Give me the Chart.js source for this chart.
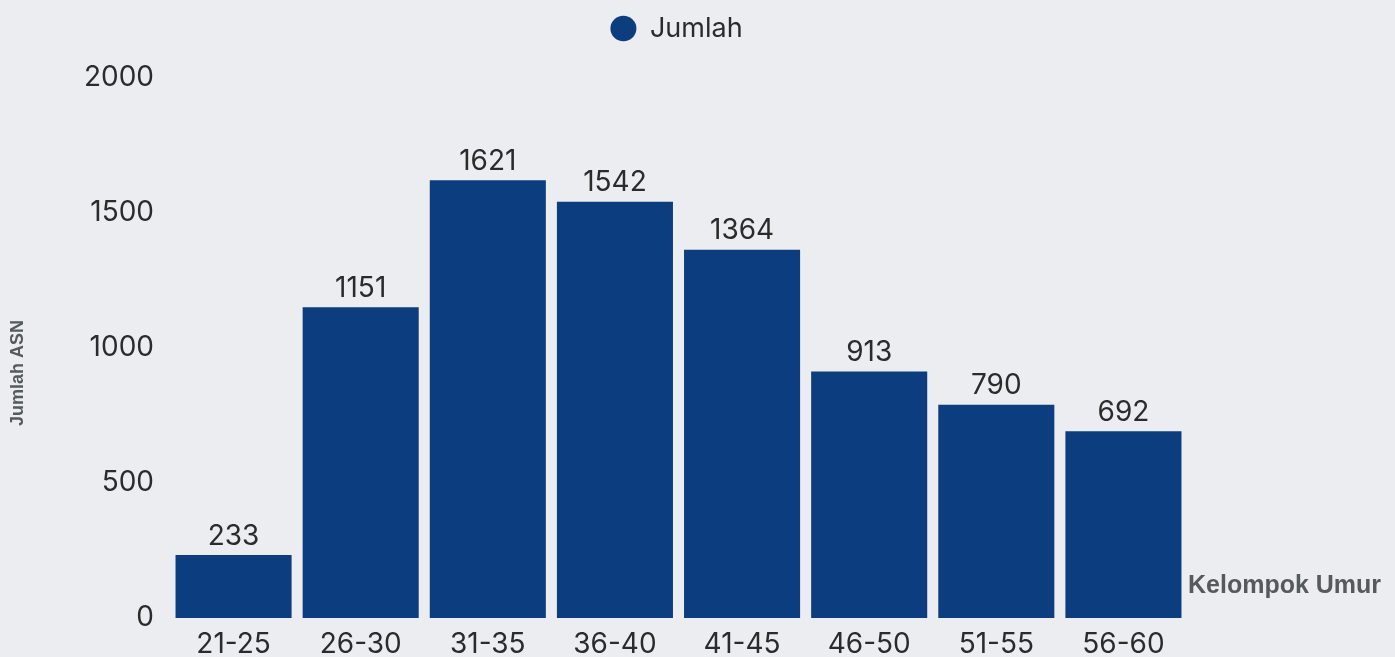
<!DOCTYPE html>
<html>
<head>
<meta charset="utf-8">
<script src="https://cdn.jsdelivr.net/npm/chart.js@4.4.0/dist/chart.umd.min.js"></script>
<style>
  html, body { margin: 0; padding: 0; background: #ecedf0; }
  #wrap { width: 1395px; height: 657px; position: relative; }
</style>
</head>
<body>
<div id="wrap"><canvas id="chart"></canvas></div>
<script>
const ageGroups = ['21-25', '26-30', '31-35', '36-40', '41-45', '46-50', '51-55', '56-60'];
const jumlah = [233, 1151, 1621, 1542, 1364, 913, 790, 692];
const seriesName = 'Jumlah';
const yTitle = 'Jumlah ASN';
const xTitle = 'Kelompok Umur';

const barColor = '#0b3d7f';
const textColor = '#2b2b2b';
const titleColor = '#555a5c';

// values over the bars
const valueLabels = {
  id: 'valueLabels',
  afterDatasetsDraw(chart) {
    const ctx = chart.ctx;
    const meta = chart.getDatasetMeta(0);
    ctx.save();
    ctx.font = '28px Inter';
    ctx.fillStyle = textColor;
    ctx.textAlign = 'center';
    ctx.textBaseline = 'bottom';
    meta.data.forEach((bar, i) => {
      ctx.fillText(String(chart.data.datasets[0].data[i]), bar.x, bar.y - 5);
    });
    ctx.restore();
  }
};

// axis titles: x sits right of the last bar, y a bit below the middle
const axisTitles = {
  id: 'axisTitles',
  afterDraw(chart) {
    const ctx = chart.ctx;
    const area = chart.chartArea;
    ctx.save();
    ctx.fillStyle = titleColor;
    ctx.font = 'bold 25px "Liberation Sans"';
    ctx.textAlign = 'left';
    ctx.textBaseline = 'alphabetic';
    ctx.fillText(xTitle, area.right + 1, area.bottom - 25);

    ctx.font = 'bold 18px "Liberation Sans"';
    ctx.textAlign = 'center';
    ctx.textBaseline = 'middle';
    ctx.translate(18, (area.top + area.bottom) / 2 + 25);
    ctx.rotate(-Math.PI / 2);
    ctx.fillText(yTitle, 0, 0);
    ctx.restore();
  }
};

// legend: fixed height, centred over the plot area
const legendPlace = {
  id: 'legendPlace',
  beforeInit(chart) {
    const fit = chart.legend.fit;
    chart.legend.fit = function () {
      fit.call(this);
      this.height = 78;
    };
  },
  afterLayout(chart) {
    chart.legend.left = chart.chartArea.left - 2;
    chart.legend.right = chart.chartArea.right - 2;
  }
};

new Chart(document.getElementById('chart'), {
  type: 'bar',
  data: {
    labels: ageGroups,
    datasets: [{
      label: seriesName,
      data: jumlah,
      backgroundColor: barColor,
      borderWidth: 0,
      barPercentage: 0.913,
      categoryPercentage: 1.0
    }]
  },
  options: {
    responsive: true,
    maintainAspectRatio: false,
    animation: false,
    layout: { padding: { left: 0, right: 208, top: 0, bottom: 0 } },
    plugins: {
      legend: {
        display: true,
        position: 'top',
        labels: {
          usePointStyle: true,
          pointStyle: 'circle',
          boxHeight: 18,
          pointStyleWidth: 26,
          padding: 15,
          color: textColor,
          font: { family: 'Inter', size: 27 }
        }
      },
      tooltip: { enabled: false }
    },
    scales: {
      x: {
        grid: { display: false, drawTicks: false },
        border: { display: false },
        ticks: { color: textColor, padding: 10, font: { family: 'Inter', size: 28 } },
        afterFit(scale) { scale.height = 39; }
      },
      y: {
        min: 0,
        max: 2000,
        grid: { display: false, drawTicks: false },
        border: { display: false },
        ticks: {
          stepSize: 500,
          color: textColor,
          padding: 16,
          font: { family: 'Inter', size: 28 },
          callback: (v) => String(v)
        },
        afterFit(scale) { scale.width = 170; }
      }
    }
  },
  plugins: [valueLabels, axisTitles, legendPlace]
});
</script>
</body>
</html>
